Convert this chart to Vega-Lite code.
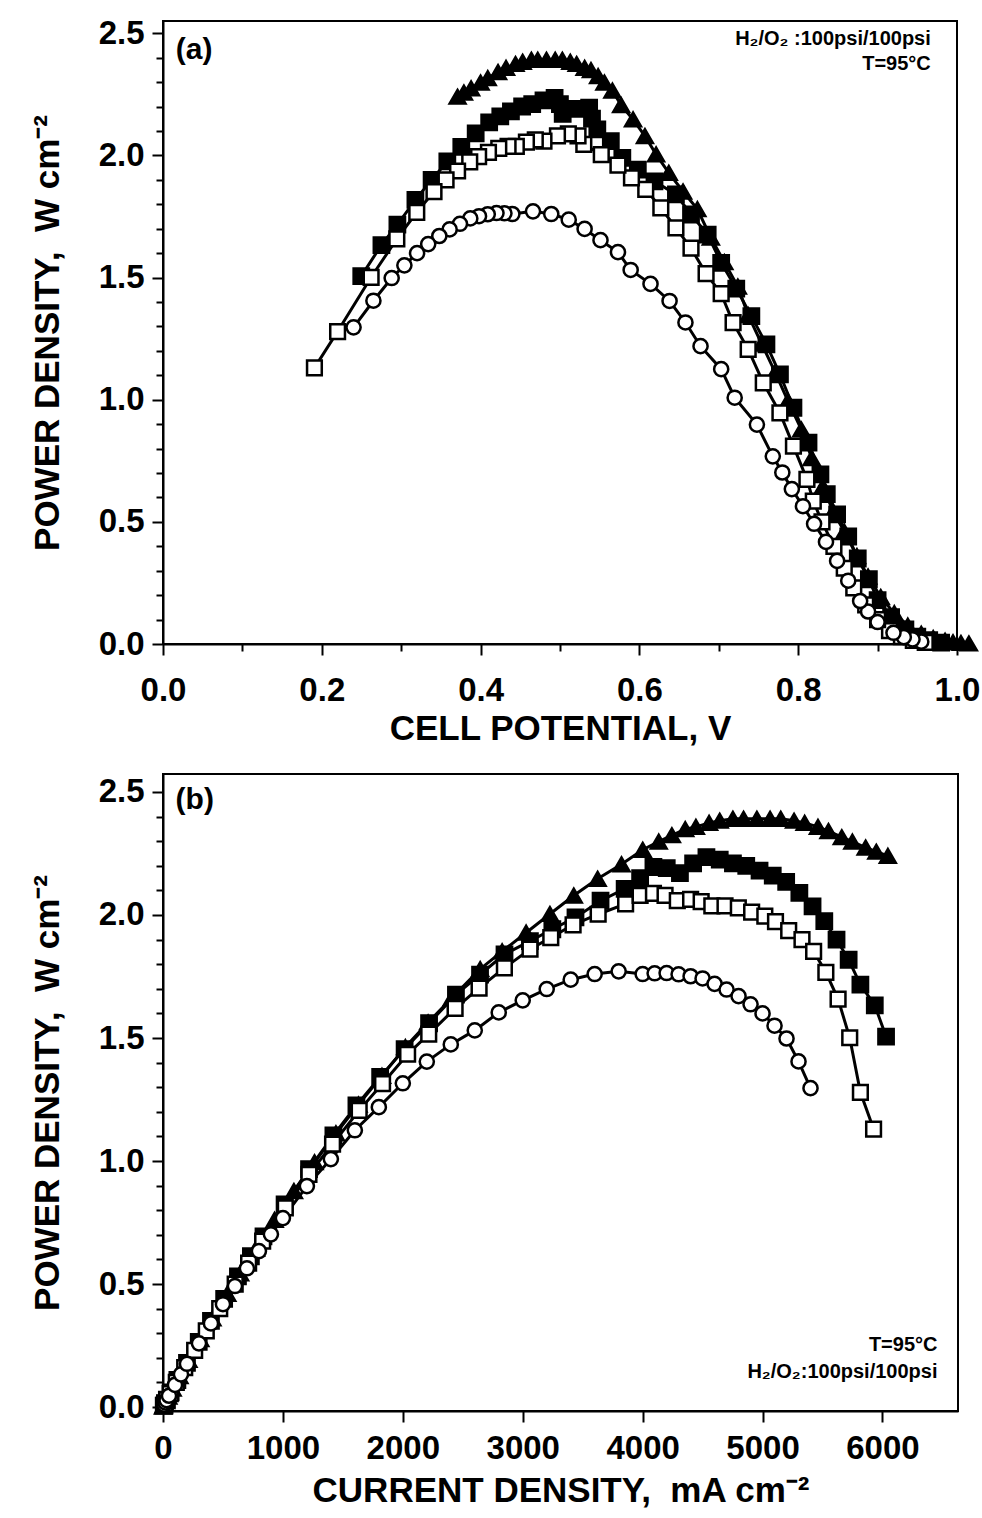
{
  "$schema": "https://vega.github.io/schema/vega-lite/v6.json",
  "background": "white",
  "padding": {"left": 29, "top": 16, "right": 5, "bottom": 5},
  "spacing": 26,
  "config": {
    "view": {"stroke": "black", "strokeWidth": 2},
    "font": "Liberation Sans",
    "axis": {
      "grid": false,
      "domainColor": "black", "domainWidth": 2,
      "tickColor": "black", "tickWidth": 2,
      "labelFont": "Liberation Sans", "labelFontWeight": "bold", "labelFontSize": 33, "labelColor": "black",
      "titleFont": "Liberation Sans", "titleFontWeight": "bold", "titleFontSize": 35, "titleColor": "black"
    }
  },
  "datasets": {
    "pts": [
      {"s":"tri","I":2,"V":1.015,"P":0.002},
      {"s":"tri","I":4,"V":1.005,"P":0.004},
      {"s":"tri","I":7,"V":0.995,"P":0.007},
      {"s":"tri","I":13,"V":0.985,"P":0.013},
      {"s":"tri","I":25,"V":0.97,"P":0.024},
      {"s":"tri","I":44,"V":0.955,"P":0.042},
      {"s":"tri","I":80,"V":0.938,"P":0.075},
      {"s":"tri","I":137,"V":0.921,"P":0.126},
      {"s":"tri","I":212,"V":0.904,"P":0.192},
      {"s":"tri","I":311,"V":0.888,"P":0.276},
      {"s":"tri","I":412,"V":0.874,"P":0.36},
      {"s":"tri","I":536,"V":0.858,"P":0.46},
      {"s":"tri","I":643,"V":0.844,"P":0.543},
      {"s":"tri","I":775,"V":0.831,"P":0.644},
      {"s":"tri","I":931,"V":0.817,"P":0.761},
      {"s":"tri","I":1092,"V":0.804,"P":0.878},
      {"s":"tri","I":1264,"V":0.787,"P":0.995},
      {"s":"tri","I":1442,"V":0.771,"P":1.112},
      {"s":"tri","I":1630,"V":0.754,"P":1.229},
      {"s":"tri","I":1826,"V":0.737,"P":1.346},
      {"s":"tri","I":2021,"V":0.724,"P":1.463},
      {"s":"tri","I":2211,"V":0.707,"P":1.563},
      {"s":"tri","I":2410,"V":0.69,"P":1.663},
      {"s":"tri","I":2645,"V":0.673,"P":1.78},
      {"s":"tri","I":2828,"V":0.655,"P":1.852},
      {"s":"tri","I":3028,"V":0.637,"P":1.928},
      {"s":"tri","I":3227,"V":0.621,"P":2.004},
      {"s":"tri","I":3426,"V":0.607,"P":2.079},
      {"s":"tri","I":3625,"V":0.592,"P":2.147},
      {"s":"tri","I":3824,"V":0.577,"P":2.206},
      {"s":"tri","I":4001,"V":0.566,"P":2.265},
      {"s":"tri","I":4134,"V":0.556,"P":2.298},
      {"s":"tri","I":4244,"V":0.548,"P":2.324},
      {"s":"tri","I":4355,"V":0.539,"P":2.349},
      {"s":"tri","I":4444,"V":0.531,"P":2.358},
      {"s":"tri","I":4554,"V":0.521,"P":2.374},
      {"s":"tri","I":4643,"V":0.513,"P":2.383},
      {"s":"tri","I":4753,"V":0.503,"P":2.391},
      {"s":"tri","I":4842,"V":0.494,"P":2.391},
      {"s":"tri","I":4953,"V":0.483,"P":2.391},
      {"s":"tri","I":5063,"V":0.472,"P":2.391},
      {"s":"tri","I":5152,"V":0.464,"P":2.391},
      {"s":"tri","I":5263,"V":0.453,"P":2.383},
      {"s":"tri","I":5351,"V":0.444,"P":2.374},
      {"s":"tri","I":5462,"V":0.432,"P":2.358},
      {"s":"tri","I":5550,"V":0.422,"P":2.341},
      {"s":"tri","I":5661,"V":0.409,"P":2.316},
      {"s":"tri","I":5749,"V":0.4,"P":2.298},
      {"s":"tri","I":5860,"V":0.388,"P":2.274},
      {"s":"tri","I":5949,"V":0.379,"P":2.257},
      {"s":"tri","I":6045,"V":0.371,"P":2.24},

      {"s":"fsq","I":6,"V":0.98,"P":0.006},
      {"s":"fsq","I":16,"V":0.965,"P":0.0155},
      {"s":"fsq","I":32,"V":0.95,"P":0.0304},
      {"s":"fsq","I":64,"V":0.935,"P":0.06},
      {"s":"fsq","I":120,"V":0.917,"P":0.11},
      {"s":"fsq","I":200,"V":0.9,"P":0.18},
      {"s":"fsq","I":298,"V":0.889,"P":0.265},
      {"s":"fsq","I":400,"V":0.875,"P":0.35},
      {"s":"fsq","I":510,"V":0.863,"P":0.44},
      {"s":"fsq","I":625,"V":0.849,"P":0.531},
      {"s":"fsq","I":733,"V":0.836,"P":0.613},
      {"s":"fsq","I":838,"V":0.828,"P":0.694},
      {"s":"fsq","I":1014,"V":0.813,"P":0.824},
      {"s":"fsq","I":1218,"V":0.794,"P":0.967},
      {"s":"fsq","I":1421,"V":0.777,"P":1.104},
      {"s":"fsq","I":1613,"V":0.76,"P":1.226},
      {"s":"fsq","I":1811,"V":0.741,"P":1.342},
      {"s":"fsq","I":2015,"V":0.722,"P":1.455},
      {"s":"fsq","I":2219,"V":0.703,"P":1.56},
      {"s":"fsq","I":2443,"V":0.686,"P":1.676},
      {"s":"fsq","I":2644,"V":0.665,"P":1.758},
      {"s":"fsq","I":2848,"V":0.646,"P":1.84},
      {"s":"fsq","I":3060,"V":0.619,"P":1.894},
      {"s":"fsq","I":3247,"V":0.598,"P":1.942},
      {"s":"fsq","I":3440,"V":0.5785,"P":1.99},
      {"s":"fsq","I":3649,"V":0.564,"P":2.058},
      {"s":"fsq","I":3850,"V":0.547,"P":2.106},
      {"s":"fsq","I":3979,"V":0.5403,"P":2.15},
      {"s":"fsq","I":4090,"V":0.5367,"P":2.195},
      {"s":"fsq","I":4201,"V":0.5213,"P":2.19},
      {"s":"fsq","I":4311,"V":0.5034,"P":2.17},
      {"s":"fsq","I":4421,"V":0.4999,"P":2.21},
      {"s":"fsq","I":4532,"V":0.4932,"P":2.235},
      {"s":"fsq","I":4643,"V":0.4792,"P":2.225},
      {"s":"fsq","I":4753,"V":0.465,"P":2.21},
      {"s":"fsq","I":4864,"V":0.4523,"P":2.2},
      {"s":"fsq","I":4975,"V":0.4382,"P":2.18},
      {"s":"fsq","I":5085,"V":0.4248,"P":2.16},
      {"s":"fsq","I":5197,"V":0.4108,"P":2.135},
      {"s":"fsq","I":5307,"V":0.3938,"P":2.09},
      {"s":"fsq","I":5417,"V":0.3757,"P":2.035},
      {"s":"fsq","I":5515,"V":0.3581,"P":1.975},
      {"s":"fsq","I":5617,"V":0.3383,"P":1.9},
      {"s":"fsq","I":5718,"V":0.3179,"P":1.818},
      {"s":"fsq","I":5816,"V":0.2952,"P":1.717},
      {"s":"fsq","I":5936,"V":0.2751,"P":1.633},
      {"s":"fsq","I":6030,"V":0.2497,"P":1.506},

      {"s":"osq","I":7,"V":0.96,"P":0.007},
      {"s":"osq","I":16,"V":0.945,"P":0.015},
      {"s":"osq","I":32,"V":0.93,"P":0.03},
      {"s":"osq","I":60,"V":0.915,"P":0.055},
      {"s":"osq","I":111,"V":0.9,"P":0.1},
      {"s":"osq","I":181,"V":0.885,"P":0.16},
      {"s":"osq","I":264,"V":0.87,"P":0.23},
      {"s":"osq","I":361,"V":0.858,"P":0.31},
      {"s":"osq","I":473,"V":0.845,"P":0.4},
      {"s":"osq","I":602,"V":0.83,"P":0.5},
      {"s":"osq","I":714,"V":0.819,"P":0.585},
      {"s":"osq","I":831,"V":0.811,"P":0.674},
      {"s":"osq","I":1020,"V":0.794,"P":0.81},
      {"s":"osq","I":1217,"V":0.777,"P":0.946},
      {"s":"osq","I":1414,"V":0.756,"P":1.069},
      {"s":"osq","I":1636,"V":0.737,"P":1.206},
      {"s":"osq","I":1831,"V":0.718,"P":1.315},
      {"s":"osq","I":2040,"V":0.703,"P":1.434},
      {"s":"osq","I":2216,"V":0.684,"P":1.516},
      {"s":"osq","I":2436,"V":0.665,"P":1.62},
      {"s":"osq","I":2636,"V":0.646,"P":1.703},
      {"s":"osq","I":2847,"V":0.627,"P":1.785},
      {"s":"osq","I":3061,"V":0.608,"P":1.861},
      {"s":"osq","I":3234,"V":0.59,"P":1.908},
      {"s":"osq","I":3420,"V":0.573,"P":1.96},
      {"s":"osq","I":3629,"V":0.552,"P":2.003},
      {"s":"osq","I":3858,"V":0.53,"P":2.045},
      {"s":"osq","I":3979,"V":0.5227,"P":2.08},
      {"s":"osq","I":4090,"V":0.5105,"P":2.088},
      {"s":"osq","I":4187,"V":0.4968,"P":2.08},
      {"s":"osq","I":4289,"V":0.4798,"P":2.058},
      {"s":"osq","I":4400,"V":0.4689,"P":2.063},
      {"s":"osq","I":4488,"V":0.4577,"P":2.054},
      {"s":"osq","I":4577,"V":0.445,"P":2.037},
      {"s":"osq","I":4687,"V":0.4346,"P":2.037},
      {"s":"osq","I":4798,"V":0.4229,"P":2.029},
      {"s":"osq","I":4909,"V":0.4099,"P":2.012},
      {"s":"osq","I":5019,"V":0.3975,"P":1.995},
      {"s":"osq","I":5108,"V":0.3863,"P":1.973},
      {"s":"osq","I":5218,"V":0.371,"P":1.936},
      {"s":"osq","I":5329,"V":0.3565,"P":1.9},
      {"s":"osq","I":5426,"V":0.3413,"P":1.852},
      {"s":"osq","I":5528,"V":0.3196,"P":1.767},
      {"s":"osq","I":5630,"V":0.2945,"P":1.658},
      {"s":"osq","I":5727,"V":0.2621,"P":1.501},
      {"s":"osq","I":5816,"V":0.2199,"P":1.279},
      {"s":"osq","I":5926,"V":0.1907,"P":1.13},

      {"s":"circ","I":10,"V":0.955,"P":0.0096},
      {"s":"circ","I":20,"V":0.944,"P":0.019},
      {"s":"circ","I":30,"V":0.933,"P":0.028},
      {"s":"circ","I":50,"V":0.92,"P":0.046},
      {"s":"circ","I":100,"V":0.9,"P":0.09},
      {"s":"circ","I":150,"V":0.888,"P":0.133},
      {"s":"circ","I":200,"V":0.878,"P":0.176},
      {"s":"circ","I":300,"V":0.863,"P":0.259},
      {"s":"circ","I":400,"V":0.849,"P":0.34},
      {"s":"circ","I":500,"V":0.835,"P":0.418},
      {"s":"circ","I":600,"V":0.82,"P":0.492},
      {"s":"circ","I":700,"V":0.806,"P":0.564},
      {"s":"circ","I":800,"V":0.792,"P":0.634},
      {"s":"circ","I":900,"V":0.78,"P":0.702},
      {"s":"circ","I":1000,"V":0.768,"P":0.768},
      {"s":"circ","I":1200,"V":0.748,"P":0.898},
      {"s":"circ","I":1400,"V":0.72,"P":1.008},
      {"s":"circ","I":1600,"V":0.703,"P":1.125},
      {"s":"circ","I":1800,"V":0.677,"P":1.219},
      {"s":"circ","I":2000,"V":0.658,"P":1.316},
      {"s":"circ","I":2200,"V":0.638,"P":1.404},
      {"s":"circ","I":2400,"V":0.614,"P":1.474},
      {"s":"circ","I":2600,"V":0.589,"P":1.531},
      {"s":"circ","I":2800,"V":0.573,"P":1.604},
      {"s":"circ","I":3000,"V":0.551,"P":1.653},
      {"s":"circ","I":3200,"V":0.531,"P":1.699},
      {"s":"circ","I":3400,"V":0.511,"P":1.737},
      {"s":"circ","I":3600,"V":0.489,"P":1.76},
      {"s":"circ","I":3800,"V":0.466,"P":1.771},
      {"s":"circ","I":4000,"V":0.44,"P":1.76},
      {"s":"circ","I":4100,"V":0.43,"P":1.763},
      {"s":"circ","I":4200,"V":0.42,"P":1.764},
      {"s":"circ","I":4300,"V":0.409,"P":1.759},
      {"s":"circ","I":4400,"V":0.398,"P":1.751},
      {"s":"circ","I":4500,"V":0.387,"P":1.742},
      {"s":"circ","I":4600,"V":0.374,"P":1.72},
      {"s":"circ","I":4700,"V":0.361,"P":1.697},
      {"s":"circ","I":4800,"V":0.348,"P":1.67},
      {"s":"circ","I":4900,"V":0.334,"P":1.637},
      {"s":"circ","I":5000,"V":0.32,"P":1.6},
      {"s":"circ","I":5100,"V":0.304,"P":1.55},
      {"s":"circ","I":5200,"V":0.288,"P":1.498},
      {"s":"circ","I":5300,"V":0.265,"P":1.405},
      {"s":"circ","I":5400,"V":0.24,"P":1.296}
    ]
  },
  "vconcat": [
    {
      "width": 794,
      "height": 623,
      "resolve": {"axis": {"x": "independent", "y": "independent"}},
      "layer": [
        {
          "data": {"name": "pts"},
          "mark": {"type": "line", "color": "black", "strokeWidth": 3},
          "encoding": {
            "x": {"field": "V", "type": "quantitative",
              "scale": {"domain": [0, 1.0], "nice": false, "zero": false},
              "axis": {
                "orient": "bottom",
                "title": "CELL POTENTIAL, V",
                "values": [0, 0.2, 0.4, 0.6, 0.8, 1.0],
                "format": ".1f",
                "tickSize": 11,
                "labelPadding": 19, "titlePadding": 4, "labelFlush": false
              }},
            "y": {"field": "P", "type": "quantitative",
              "scale": {"domain": [0, 2.55], "nice": false, "zero": false},
              "axis": {
                "orient": "left",
                "title": "POWER DENSITY,\u00a0 W cm⁻²",
                "values": [0, 0.5, 1.0, 1.5, 2.0, 2.5],
                "format": ".1f",
                "tickSize": 11,
                "labelPadding": 8, "titlePadding": 33, "labelFlush": false
              }},
            "detail": {"field": "s", "type": "nominal"},
            "order": {"field": "I", "type": "quantitative"}
          }
        },
        {
          "data": {"name": "pts"},
          "mark": {"type": "point", "filled": true, "stroke": "black", "strokeWidth": 2.5, "opacity": 1},
          "encoding": {
            "x": {"field": "V", "type": "quantitative", "scale": {"domain": [0, 1.0], "nice": false, "zero": false},
              "axis": {"orient": "bottom", "values": [0.1, 0.3, 0.5, 0.7, 0.9], "labels": false, "domain": false, "tickSize": 7, "title": null}},
            "y": {"field": "P", "type": "quantitative", "scale": {"domain": [0, 2.55], "nice": false, "zero": false},
              "axis": {"orient": "left", "values": [0.1, 0.2, 0.3, 0.4, 0.6, 0.7, 0.8, 0.9, 1.1, 1.2, 1.3, 1.4, 1.6, 1.7, 1.8, 1.9, 2.1, 2.2, 2.3, 2.4], "labels": false, "domain": false, "tickSize": 7, "title": null}},
            "shape": {"field": "s", "type": "nominal", "scale": {"domain": ["tri", "fsq", "osq", "circ"], "range": ["triangle-up", "square", "square", "circle"]}, "legend": null},
            "fill": {"field": "s", "type": "nominal", "scale": {"domain": ["tri", "fsq", "osq", "circ"], "range": ["black", "black", "white", "white"]}, "legend": null},
            "size": {"field": "s", "type": "nominal", "scale": {"domain": ["tri", "fsq", "osq", "circ"], "range": [250, 200, 200, 115]}, "legend": null}
          }
        },
        {
          "data": {"values": [{"V": 0.016, "P": 2.43, "t": "(a)"}]},
          "mark": {"type": "text", "align": "left", "baseline": "middle", "fontSize": 30, "fontWeight": "bold", "font": "Liberation Sans", "color": "black"},
          "encoding": {
            "x": {"field": "V", "type": "quantitative", "scale": {"domain": [0, 1.0], "nice": false, "zero": false}, "axis": null},
            "y": {"field": "P", "type": "quantitative", "scale": {"domain": [0, 2.55], "nice": false, "zero": false}, "axis": null},
            "text": {"field": "t"}
          }
        },
        {
          "data": {"values": [{"V": 0.967, "P": 2.475, "t": "H₂/O₂ :100psi/100psi"}, {"V": 0.967, "P": 2.373, "t": "T=95°C"}]},
          "mark": {"type": "text", "align": "right", "baseline": "middle", "fontSize": 20, "fontWeight": "bold", "font": "Liberation Sans", "color": "black"},
          "encoding": {
            "x": {"field": "V", "type": "quantitative", "scale": {"domain": [0, 1.0], "nice": false, "zero": false}, "axis": null},
            "y": {"field": "P", "type": "quantitative", "scale": {"domain": [0, 2.55], "nice": false, "zero": false}, "axis": null},
            "text": {"field": "t"}
          }
        }
      ]
    },
    {
      "width": 795,
      "height": 637,
      "resolve": {"axis": {"x": "independent", "y": "independent"}},
      "layer": [
        {
          "data": {"name": "pts"},
          "mark": {"type": "line", "color": "black", "strokeWidth": 3},
          "encoding": {
            "x": {"field": "I", "type": "quantitative",
              "scale": {"domain": [0, 6630], "nice": false, "zero": false},
              "axis": {
                "orient": "bottom",
                "title": "CURRENT DENSITY,\u00a0 mA cm⁻²",
                "values": [0, 1000, 2000, 3000, 4000, 5000, 6000],
                "format": "d",
                "tickSize": 11,
                "labelPadding": 10, "titlePadding": 8, "labelFlush": false
              }},
            "y": {"field": "P", "type": "quantitative",
              "scale": {"domain": [-0.016, 2.573], "nice": false, "zero": false},
              "axis": {
                "orient": "left",
                "title": "POWER DENSITY,\u00a0 W cm⁻²",
                "values": [0, 0.5, 1.0, 1.5, 2.0, 2.5],
                "format": ".1f",
                "tickSize": 11,
                "labelPadding": 8, "titlePadding": 33, "labelFlush": false
              }},
            "detail": {"field": "s", "type": "nominal"},
            "order": {"field": "I", "type": "quantitative"}
          }
        },
        {
          "data": {"name": "pts"},
          "mark": {"type": "point", "filled": true, "stroke": "black", "strokeWidth": 2.5, "opacity": 1},
          "encoding": {
            "x": {"field": "I", "type": "quantitative", "scale": {"domain": [0, 6630], "nice": false, "zero": false}, "axis": null},
            "y": {"field": "P", "type": "quantitative", "scale": {"domain": [-0.016, 2.573], "nice": false, "zero": false},
              "axis": {"orient": "left", "values": [0.1, 0.2, 0.3, 0.4, 0.6, 0.7, 0.8, 0.9, 1.1, 1.2, 1.3, 1.4, 1.6, 1.7, 1.8, 1.9, 2.1, 2.2, 2.3, 2.4], "labels": false, "domain": false, "tickSize": 7, "title": null}},
            "shape": {"field": "s", "type": "nominal", "scale": {"domain": ["tri", "fsq", "osq", "circ"], "range": ["triangle-up", "square", "square", "circle"]}, "legend": null},
            "fill": {"field": "s", "type": "nominal", "scale": {"domain": ["tri", "fsq", "osq", "circ"], "range": ["black", "black", "white", "white"]}, "legend": null},
            "size": {"field": "s", "type": "nominal", "scale": {"domain": ["tri", "fsq", "osq", "circ"], "range": [250, 200, 200, 115]}, "legend": null}
          }
        },
        {
          "data": {"values": [{"I": 105, "P": 2.467, "t": "(b)"}]},
          "mark": {"type": "text", "align": "left", "baseline": "middle", "fontSize": 30, "fontWeight": "bold", "font": "Liberation Sans", "color": "black"},
          "encoding": {
            "x": {"field": "I", "type": "quantitative", "scale": {"domain": [0, 6630], "nice": false, "zero": false}, "axis": null},
            "y": {"field": "P", "type": "quantitative", "scale": {"domain": [-0.016, 2.573], "nice": false, "zero": false}, "axis": null},
            "text": {"field": "t"}
          }
        },
        {
          "data": {"values": [{"I": 6459, "P": 0.252, "t": "T=95°C"}, {"I": 6459, "P": 0.142, "t": "H₂/O₂:100psi/100psi"}]},
          "mark": {"type": "text", "align": "right", "baseline": "middle", "fontSize": 20, "fontWeight": "bold", "font": "Liberation Sans", "color": "black"},
          "encoding": {
            "x": {"field": "I", "type": "quantitative", "scale": {"domain": [0, 6630], "nice": false, "zero": false}, "axis": null},
            "y": {"field": "P", "type": "quantitative", "scale": {"domain": [-0.016, 2.573], "nice": false, "zero": false}, "axis": null},
            "text": {"field": "t"}
          }
        }
      ]
    }
  ]
}
